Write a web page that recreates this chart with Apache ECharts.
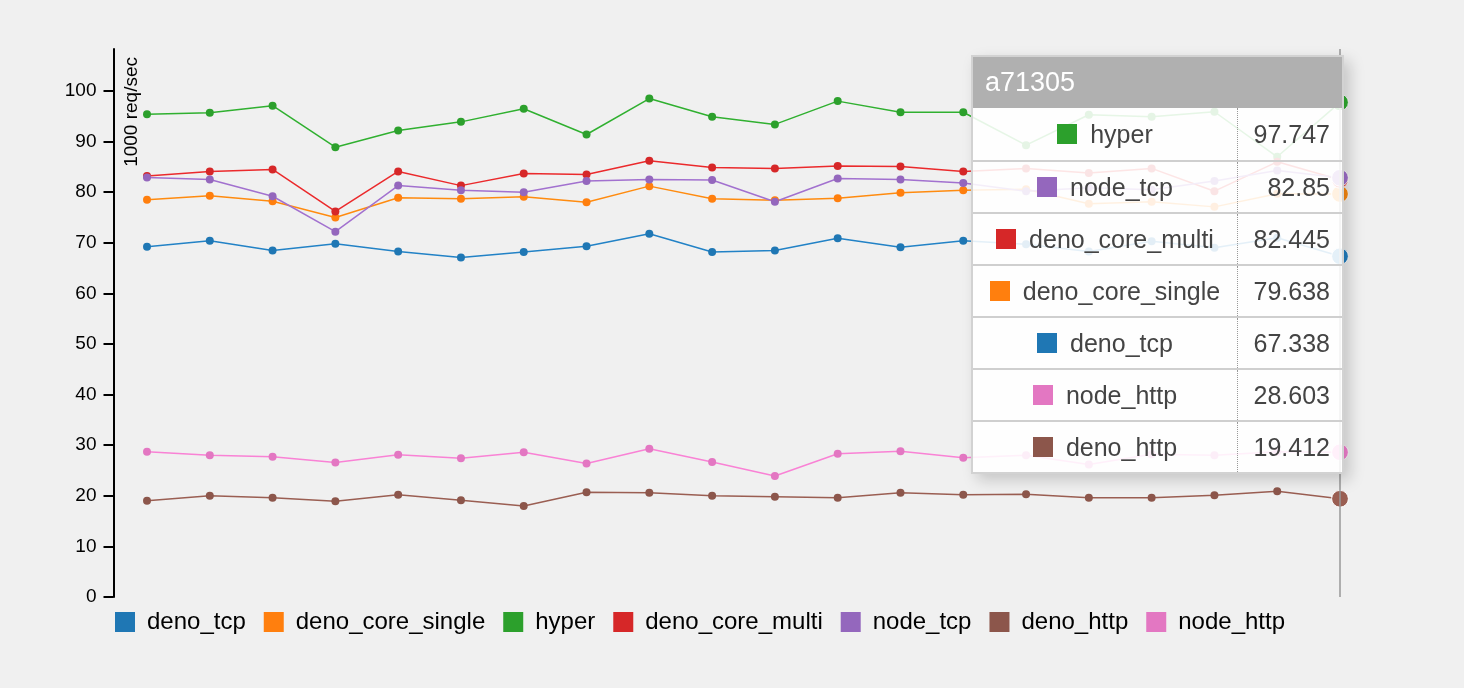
<!DOCTYPE html>
<html>
<head>
<meta charset="utf-8">
<script src="https://cdn.jsdelivr.net/npm/echarts@6/dist/echarts.min.js"></script>
<style>
html,body{margin:0;padding:0;background:#f0f0f0;}
#c{width:1464px;height:688px;}
</style>
</head>
<body>
<div id="c"></div>
<script>
// ---- data ----
const categories = ['1','2','3','4','5','6','7','8','9','10','11','12','13','14','15','16','17','18','19','a71305'];
const seriesNames = ['deno_tcp','deno_core_single','hyper','deno_core_multi','node_tcp','deno_http','node_http'];
const deno_tcp         = [69.2, 70.4, 68.5, 69.8, 68.3, 67.1, 68.2, 69.3, 71.8, 68.2, 68.5, 70.9, 69.1, 70.4, 69.7, 68.3, 70.3, 69.0, 71.0, 67.338];
const deno_core_single = [78.5, 79.3, 78.2, 75.0, 78.9, 78.7, 79.1, 78.0, 81.2, 78.7, 78.4, 78.8, 79.9, 80.4, 80.6, 77.7, 78.1, 77.1, 79.7, 79.638];
const hyper            = [95.4, 95.7, 97.1, 88.9, 92.2, 93.9, 96.5, 91.4, 98.5, 94.9, 93.4, 98.0, 95.8, 95.8, 89.3, 95.3, 94.9, 95.9, 87.0, 97.747];
const deno_core_multi  = [83.2, 84.1, 84.5, 76.2, 84.1, 81.3, 83.7, 83.5, 86.2, 84.9, 84.7, 85.2, 85.1, 84.1, 84.7, 83.8, 84.7, 80.2, 86.0, 82.445];
const node_tcp         = [82.9, 82.5, 79.2, 72.2, 81.3, 80.4, 80.0, 82.2, 82.5, 82.4, 78.1, 82.7, 82.5, 81.8, 80.2, 80.9, 80.5, 82.2, 84.3, 82.85];
const deno_http        = [19.0, 20.0, 19.6, 18.9, 20.2, 19.1, 18.0, 20.7, 20.6, 20.0, 19.8, 19.6, 20.6, 20.2, 20.3, 19.6, 19.6, 20.1, 20.9, 19.412];
const node_http        = [28.7, 28.0, 27.7, 26.6, 28.1, 27.4, 28.6, 26.4, 29.3, 26.7, 23.9, 28.3, 28.8, 27.5, 28.0, 26.2, 28.2, 28.0, 28.7, 28.603];
const yTicks = [0, 10, 20, 30, 40, 50, 60, 70, 80, 90, 100];
const yTitle = '1000 req/sec';

const seriesData = [deno_tcp, deno_core_single, hyper, deno_core_multi, node_tcp, deno_http, node_http];
const colors = ['#1f77b4','#ff7f0e','#2ca02c','#d62728','#9467bd','#8c564b','#e377c2'];
const FONT = '"Liberation Sans", Arial, Helvetica, sans-serif';

const chart = echarts.init(document.getElementById('c'), null, {renderer:'canvas'});

function tipFormatter(params){
  const rows = params.slice().sort((a,b)=>b.value-a.value);
  let h = '<div style="width:369px;font-family:'+FONT.replace(/"/g,"'")+';">';
  h += '<div style="background:#b0b0b0;color:#fff;font-size:27px;height:51px;line-height:51px;padding-left:12px;">'+params[0].name+'</div>';
  rows.forEach((p,i)=>{
    h += '<div style="display:flex;box-sizing:border-box;height:52px;'+(i>0?'border-top:2px solid #cfcfcf;':'')+'">';
    h += '<div style="width:264px;display:flex;align-items:center;justify-content:center;border-right:1px dotted #999;font-size:25px;color:#444;">'
       + '<span style="display:inline-block;width:20px;height:20px;background:'+p.color+';margin-right:13px;"></span>'
       + '<span>'+p.seriesName+'</span></div>';
    h += '<div style="flex:1;display:flex;align-items:center;justify-content:flex-end;padding-right:12px;font-size:25px;color:#444;">'+p.value+'</div>';
    h += '</div>';
  });
  h += '</div>';
  return h;
}

const option = {
  animation: false,
  backgroundColor: '#f0f0f0',
  color: colors,
  textStyle: {fontFamily: FONT},
  grid: {left: 147, right: 124, top: 49, bottom: 91, containLabel: false},
  xAxis: {
    type: 'category', data: categories, boundaryGap: false,
    axisLine: {show: false}, axisTick: {show: false}, axisLabel: {show: false}, splitLine: {show: false}
  },
  yAxis: {
    type: 'value', min: 0, max: 108.3, offset: 33.5,
    axisLine: {show: true, lineStyle: {color: '#000', width: 2}},
    axisTick: {show: true, length: 10, lineStyle: {color: '#000', width: 2}, customValues: yTicks},
    axisLabel: {customValues: yTicks, color: '#000', fontSize: 19, margin: 17, fontFamily: FONT},
    splitLine: {show: false}
  },
  tooltip: {
    trigger: 'axis',
    alwaysShowContent: true,
    transitionDuration: 0,
    padding: 0,
    backgroundColor: 'rgba(255,255,255,0.88)',
    borderColor: '#d2d2d2',
    borderWidth: 2,
    extraCssText: 'border-radius:0;box-shadow:6px 6px 14px rgba(0,0,0,0.18);',
    position: [971, 55],
    axisPointer: {type: 'line', animation: false, lineStyle: {color: '#999', width: 1.5, type: 'solid'}},
    formatter: tipFormatter
  },
  legend: {
    data: seriesNames, top: 605, left: 110, icon: 'rect', itemWidth: 20, itemHeight: 20, itemGap: 18,
    textStyle: {fontSize: 24, color: '#000', fontFamily: FONT, padding: [0, 0, 0, 7]}
  },
  graphic: [{
    type: 'text', x: 132, y: 57, rotation: Math.PI / 2,
    style: {text: yTitle, fontSize: 19, fontFamily: FONT, fill: '#000', align: 'right', verticalAlign: 'middle'}
  }],
  series: seriesNames.map((n, i) => ({
    name: n, type: 'line', data: seriesData[i],
    symbol: 'circle', symbolSize: 8, showSymbol: true, showAllSymbol: true,
    lineStyle: {width: 1.5, color: colors[i]},
    itemStyle: {color: colors[i]},
    emphasis: {scale: 2.1, focus: 'none', lineStyle: {width: 1.5}, itemStyle: {borderColor: '#fff', borderWidth: 1}}
  }))
};
chart.setOption(option);
chart.dispatchAction({type: 'showTip', seriesIndex: 0, dataIndex: 19});
setTimeout(() => chart.dispatchAction({type: 'showTip', seriesIndex: 0, dataIndex: 19}), 30);
</script>
</body>
</html>
